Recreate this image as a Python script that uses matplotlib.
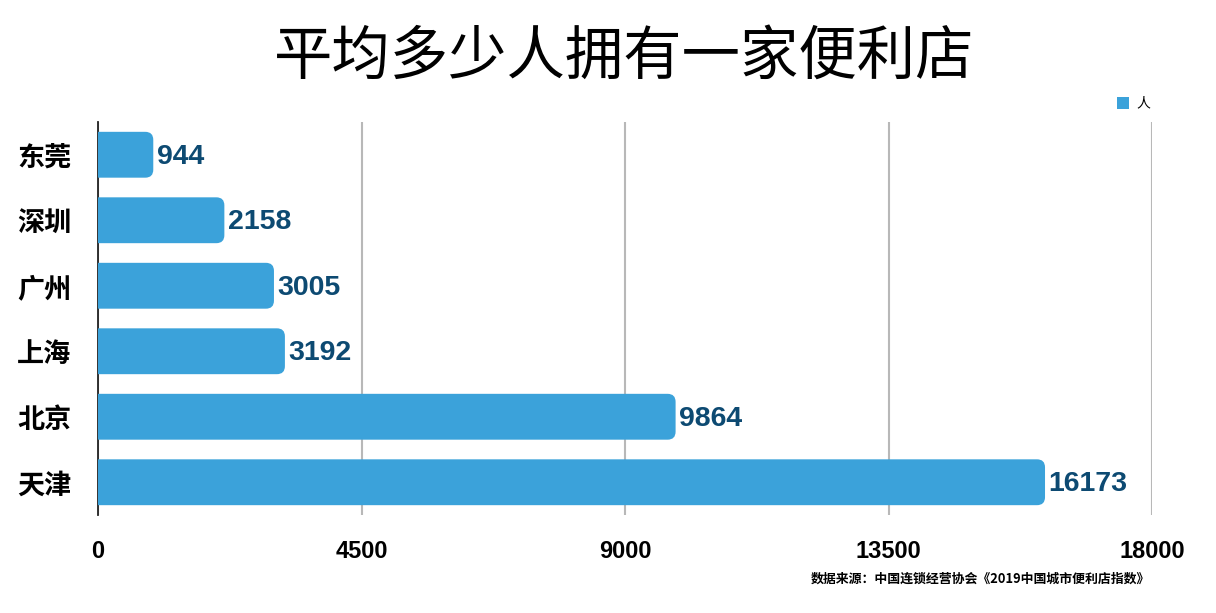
import matplotlib
matplotlib.use("Agg")
import matplotlib.pyplot as plt
from matplotlib.patches import FancyBboxPatch, Rectangle

plt.rcParams['font.family'] = ['Noto Sans CJK SC', 'DejaVu Sans']

cities = ['东莞', '深圳', '广州', '上海', '北京', '天津']
values = [944, 2158, 3005, 3192, 9864, 16173]
xticks = [0, 4500, 9000, 13500, 18000]
title = '平均多少人拥有一家便利店'
legend_label = '人'
source = '数据来源：中国连锁经营协会《2019中国城市便利店指数》'

bar_color = '#3ba2da'
label_color = '#0d4a72'

fig = plt.figure(figsize=(12.16, 6.13), dpi=100)
ax = fig.add_axes([98/1216, 1-515/613, (1152-98)/1216, (515-122)/613])
ax.set_xlim(0, 18000)
ax.set_ylim(5.5, -0.5)

bh = 0.70
px_x = (1152-98)/18000
px_y = (515-122)/6.0
r_px = 8
r_x = r_px/px_x
aspect = (r_px/px_y)/r_x
for i, v in enumerate(values):
    p = FancyBboxPatch((-400, i-bh/2), v+400, bh,
                       boxstyle=f"round,pad=0,rounding_size={r_x}",
                       mutation_aspect=aspect, facecolor=bar_color,
                       edgecolor='none', zorder=3)
    ax.add_patch(p)
    ax.text(v+60, i+0.03, str(v), va='center', ha='left', fontsize=20.5,
            fontweight='bold', color=label_color,
            family=['Liberation Sans', 'DejaVu Sans'], zorder=4)

ax.set_yticks(range(len(cities)))
ax.set_yticklabels(cities, fontsize=19.5, fontweight='bold')
ax.set_xticks(xticks)
ax.set_xticklabels([str(t) for t in xticks], fontsize=17, fontweight='bold',
                   family=['Liberation Sans', 'DejaVu Sans'])
ax.tick_params(axis='both', length=0)
ax.tick_params(axis='x', pad=18)
ax.tick_params(axis='y', pad=19)
for s in ['top', 'right', 'bottom']:
    ax.spines[s].set_visible(False)
ax.spines['left'].set_color('#222222')
ax.spines['left'].set_linewidth(1.3)
ax.set_axisbelow(True)
ax.xaxis.grid(True, color='#b8b8b8', linewidth=1.5)
ax.yaxis.grid(False)

fig.text(624/1216, 1-57/613, title, ha='center', va='center', fontsize=42)

fig.patches.append(Rectangle((1117/1216, 1-109/613), 12/1216, 12/613,
                             transform=fig.transFigure, facecolor=bar_color,
                             edgecolor='none'))
fig.text(1136/1216, 1-103/613, legend_label, ha='left', va='center', fontsize=10)

fig.text(1150/1216, 1-579/613, source, ha='right', va='center', fontsize=9.3,
         fontweight='bold')

fig.savefig('out.png', dpi=100)
